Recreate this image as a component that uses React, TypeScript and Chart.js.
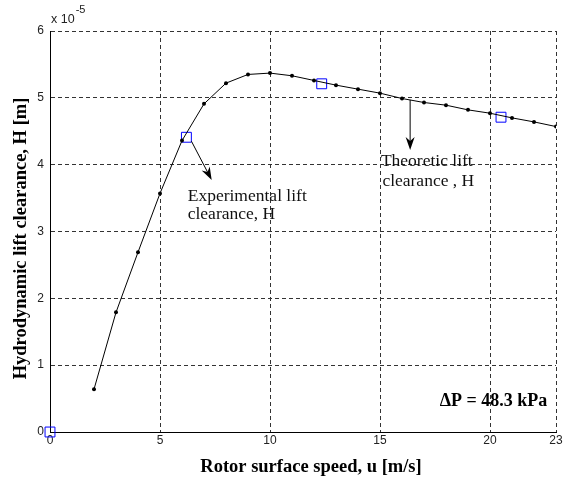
import React, { useEffect, useRef } from 'react';
import { Chart, registerables } from 'chart.js';

Chart.register(...registerables);

// Theoretic lift clearance (values in units of 1e-5 m)
const theoreticSpeed = [2, 3, 4, 5, 6, 7, 8, 9, 10, 11, 12, 13, 14, 15, 16, 17, 18, 19, 20, 21, 22, 23];
const theoreticH = [0.64, 1.79, 2.69, 3.57, 4.36, 4.91, 5.22, 5.35, 5.37, 5.33, 5.26, 5.19, 5.13, 5.07, 4.99, 4.93, 4.89, 4.82, 4.77, 4.70, 4.64, 4.57];

// Experimental lift clearance
const experimentalSpeed = [0, 6.2, 12.35, 20.5];
const experimentalH = [0, 4.41, 5.21, 4.71];

const xTickValues = [0, 5, 10, 15, 20, 23];
const yTickValues = [0, 1, 2, 3, 4, 5, 6];

const xTitle = 'Rotor surface speed, u [m/s]';
const yTitle = 'Hydrodynamic lift clearance, H [m]';
const expLabel = ['Experimental lift', 'clearance, H'];
const theoLabel = ['Theoretic lift', 'clearance , H'];
const pressureLabel = '\u0394P = 48.3 kPa';

// annotation anchors in data coordinates
const expArrow = { x1: 6.43, y1: 4.35, x2: 7.35, y2: 3.77 };
const theoArrow = { x1: 16.37, y1: 4.97, x2: 16.37, y2: 4.22 };
const expText = { x: 6.26, y: 3.46 };
const theoText = { x: 15.04, y: 3.98 };
const pressureText = { x: 22.6, y: 0.39 };

const SERIF = '"Liberation Serif", "Times New Roman", serif';
const SANS = '"Liberation Sans", Arial, sans-serif';

function drawArrow(ctx: CanvasRenderingContext2D, x1: number, y1: number, x2: number, y2: number) {
  const ang = Math.atan2(y2 - y1, x2 - x1);
  const L = 13, W = 4.5, N = 4;
  ctx.save();
  ctx.strokeStyle = '#000';
  ctx.fillStyle = '#000';
  ctx.lineWidth = 1;
  ctx.beginPath();
  ctx.moveTo(x1, y1);
  ctx.lineTo(x2 - Math.cos(ang) * (L - N), y2 - Math.sin(ang) * (L - N));
  ctx.stroke();
  ctx.translate(x2, y2);
  ctx.rotate(ang);
  ctx.beginPath();
  ctx.moveTo(0, 0);
  ctx.lineTo(-L, -W);
  ctx.lineTo(-L + N, 0);
  ctx.lineTo(-L, W);
  ctx.closePath();
  ctx.fill();
  ctx.restore();
}

const annotationPlugin = {
  id: 'annotations',
  afterDraw(chart: any) {
    const { ctx, chartArea, scales } = chart;
    const xs = scales.x, ys = scales.y;
    const px = (v: number) => xs.getPixelForValue(v);
    const py = (v: number) => ys.getPixelForValue(v);
    ctx.save();

    // axis titles
    ctx.fillStyle = '#000';
    ctx.font = `bold 18.5px ${SERIF}`;
    ctx.textAlign = 'center';
    ctx.textBaseline = 'alphabetic';
    ctx.fillText(xTitle, chartArea.left + chartArea.width / 2 + 8, chartArea.bottom + 40);
    ctx.save();
    ctx.translate(chartArea.left - 24, (chartArea.top + chartArea.bottom) / 2 + 7);
    ctx.rotate(-Math.PI / 2);
    ctx.fillText(yTitle, 0, 0);
    ctx.restore();

    // exponent label
    ctx.fillStyle = '#222';
    ctx.textAlign = 'left';
    ctx.font = `12.5px ${SANS}`;
    ctx.fillText('x 10', chartArea.left + 1, chartArea.top - 8);
    const w = ctx.measureText('x 10').width;
    ctx.font = `11px ${SANS}`;
    ctx.fillText('-5', chartArea.left + 2 + w, chartArea.top - 18);

    // arrows
    drawArrow(ctx, px(expArrow.x1), py(expArrow.y1), px(expArrow.x2), py(expArrow.y2));
    drawArrow(ctx, px(theoArrow.x1), py(theoArrow.y1), px(theoArrow.x2), py(theoArrow.y2));

    // annotation texts
    ctx.fillStyle = '#111';
    ctx.font = `17.5px ${SERIF}`;
    ctx.textAlign = 'left';
    expLabel.forEach((t, i) => ctx.fillText(t, px(expText.x), py(expText.y) + i * 18.5));
    theoLabel.forEach((t, i) => ctx.fillText(t, px(theoText.x) + (i ? 1.5 : 0), py(theoText.y) + i * 20));

    ctx.fillStyle = '#000';
    ctx.font = `bold 18px ${SERIF}`;
    ctx.textAlign = 'right';
    ctx.fillText(pressureLabel, px(pressureText.x), py(pressureText.y));
    ctx.restore();
  },
};

export default function App() {
  const ref = useRef<HTMLCanvasElement | null>(null);

  useEffect(() => {
    if (!ref.current) return;
    const gridColor = '#333';
    const chart = new Chart(ref.current, {
      type: 'line',
      data: {
        datasets: [
          {
            label: 'Theoretic',
            data: theoreticSpeed.map((x, i) => ({ x, y: theoreticH[i] })),
            borderColor: '#000',
            borderWidth: 1,
            backgroundColor: '#000',
            pointRadius: 2,
            pointBorderWidth: 0,
            pointBackgroundColor: '#000',
            tension: 0,
            fill: false,
          },
          {
            label: 'Experimental',
            data: experimentalSpeed.map((x, i) => ({ x, y: experimentalH[i] })),
            showLine: false,
            pointStyle: 'rect',
            pointRadius: 7,
            pointBorderColor: '#0000ff',
            pointBorderWidth: 1,
            pointBackgroundColor: 'rgba(0,0,0,0)',
            clip: false as any,
          },
        ],
      },
      options: {
        animation: false,
        responsive: false,
        maintainAspectRatio: false,
        layout: { padding: { top: 31, right: 6, bottom: 0, left: 0 } },
        plugins: { legend: { display: false }, tooltip: { enabled: false } },
        scales: {
          x: {
            type: 'linear',
            min: 0,
            max: 23,
            afterBuildTicks: (s: any) => {
              s.ticks = xTickValues.map((v) => ({ value: v }));
            },
            afterFit: (s: any) => {
              s.height = 47;
              s.paddingLeft = 0;
              s.paddingRight = 0;
            },
            grid: { color: gridColor, lineWidth: 1, drawTicks: false },
            border: { display: true, color: '#000', width: 1, dash: [4, 3] },
            ticks: {
              color: '#222',
              font: { family: SANS, size: 12 },
              padding: 1,
              maxRotation: 0,
              autoSkip: false,
              callback: (v: any) => String(v),
            },
          },
          y: {
            type: 'linear',
            min: 0,
            max: 6,
            afterBuildTicks: (s: any) => {
              s.ticks = yTickValues.map((v) => ({ value: v }));
            },
            afterFit: (s: any) => {
              s.width = 50;
              s.paddingTop = 0;
              s.paddingBottom = 0;
            },
            grid: { color: gridColor, lineWidth: 1, drawTicks: false },
            border: { display: true, color: '#000', width: 1, dash: [4, 3] },
            ticks: {
              color: '#222',
              font: { family: SANS, size: 12 },
              padding: 6,
              autoSkip: false,
              callback: (v: any) => String(v),
            },
          },
        },
      },
      plugins: [annotationPlugin],
    });
    return () => chart.destroy();
  }, []);

  return (
    <div style={{ position: 'fixed', left: 0, top: 0, width: 564, height: 479, background: '#fff' }}>
      <canvas ref={ref} width={564} height={479} style={{ width: 564, height: 479, display: 'block' }} />
    </div>
  );
}
